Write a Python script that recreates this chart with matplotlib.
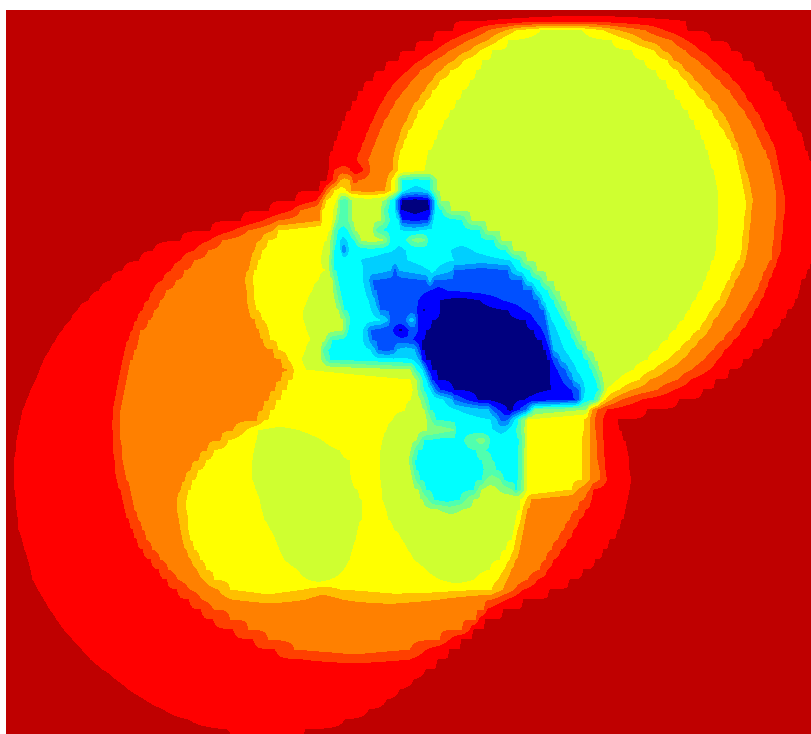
import numpy as np
import matplotlib
matplotlib.use("Agg")
import matplotlib.pyplot as plt

# band read off the picture along each row, hex code
# 0 navy, 1 blue, 2 mid blue, 4 light blue, 5 cyan, 6 7 thin greens, 8 yellow-green,
# 9 yellow, a thin, b orange, c thin, d red, e dark red
grid_x = np.arange(0, 831, 2)
grid_y = np.arange(10, 741, 10)

# one row per grid_y, "<band><x where the band stops>"
band_rows = [
    "e999",
    "e487 d680 e999",
    "e453 d473 c487 b505 a515 9540 8583 9605 a620 b646 c665 d688 e999",
    "e433 d450 c467 b487 a498 9508 8612 9630 a644 b673 c687 d711 e999",
    "e415 d435 c449 b469 a480 9492 8633 9655 a663 b686 c700 d731 e999",
    "e398 d420 c434 b454 a463 9482 8645 9668 a674 b699 c713 d743 e999",
    "e384 d408 c420 b441 a450 9476 8657 9679 a685 b710 c723 d756 e999",
    "e373 d397 c411 b432 a439 9469 8666 9687 a695 b720 c733 d766 e999",
    "e363 d389 c403 b425 a432 9462 8674 9695 a704 b730 c742 d774 e999",
    "e356 d383 c395 b418 a425 9456 8681 9704 a712 b737 c748 d781 e999",
    "e350 d377 c390 b411 a418 9449 8689 9712 a720 b745 c755 d788 e999",
    "e345 d373 c384 b407 a413 9443 8694 9718 a727 b751 c762 d793 e999",
    "e340 d368 c379 b401 a408 9438 8700 9725 a731 b756 c766 d798 e999",
    "e336 d364 c375 b398 a403 9433 8705 9731 a735 b761 c771 d803 e999",
    "e333 d360 c371 b395 a400 9428 8708 9736 a739 b766 c776 d806 e999",
    "e329 d356 c367 b393 a398 9425 8711 9738 a743 b770 c778 d810 e999",
    "e328 d333 c351 d363 c370 b392 a397 9423 8715 9741 a746 b773 c780 d815 e999",
    "e326 d332 c338 a352 c358 b387 a391 9396 7399 6401 5430 6433 7437 8717 9743 a749 b775 c782 d820 e999",
    "e319 d323 c326 b330 a334 9347 a351 b385 a391 9395 8398 7400 6402 5405 4428 5431 6434 7438 8718 9745 a751 b776 c784 d999",
    "e295 d316 c320 b323 a326 9337 7340 6349 7352 8384 7387 6390 5394 4397 2400 1402 0428 1430 2433 4435 5437 6439 7441 8718 9746 a753 b777 c786 d999",
    "e269 d291 c300 b320 a322 9333 8337 7339 6348 7352 8380 7383 6387 5395 4397 2399 1400 0430 1432 2433 4435 5442 6446 7451 8718 9746 a752 b777 c785 d999",
    "e241 d263 c278 b320 a322 9332 8335 7338 6349 7352 8381 7385 6389 5398 4400 2402 1428 2431 4434 5463 6467 7472 8718 9745 a751 b776 c784 d999",
    "e210 d233 c248 b273 a278 9330 8332 7334 6337 5349 6352 7355 8372 7375 6380 5400 4427 5480 6484 7488 8718 9744 a750 b775 c783 d999",
    "e180 d209 c222 b260 a267 9327 8330 7333 6336 5340 4347 5355 6358 7361 8383 7387 6390 5407 6412 7425 6428 5495 6498 7502 8717 9743 a749 b774 c782 d999",
    "e153 d194 c208 b254 a261 9322 8330 7332 6334 5340 4342 2346 4349 5393 4406 5450 4473 5507 6510 7514 8717 9742 a748 b773 c781 d999",
    "e139 d180 c193 b251 a258 9320 8328 7331 6333 5360 4408 5453 4510 5520 6523 7527 8715 9740 a746 b772 c777 d812 e999",
    "e122 d171 c184 b248 a254 9325 8329 7331 6334 5363 4392 2398 4430 5435 4453 2510 4517 5530 6533 7537 8710 9735 a741 b767 c774 d808 e999",
    "e110 d162 c175 b245 a252 9318 8332 7334 6337 5363 4370 2428 4432 2523 4527 5540 6543 7547 8707 9730 a736 b762 c769 d802 e999",
    "e99 d153 c165 b246 a253 9312 8333 7336 6339 5365 4372 2430 1447 2533 4537 5548 6552 7556 8703 9725 a731 b759 c766 d800 e999",
    "e88 d148 c159 b247 a254 9307 8335 7338 6341 5368 4376 2418 1440 0480 1503 2540 4543 5554 6558 7562 8697 9720 a727 b753 c761 d795 e999",
    "e77 d142 c153 b249 a256 9303 8338 7341 6344 5371 4379 2417 1422 0425 1440 0509 1525 2545 4548 5559 6563 7567 8691 9713 a721 b747 c755 d788 e999",
    "e70 d137 c147 b255 a261 9303 8343 7346 6349 5380 4389 2408 4415 2418 1432 0527 1535 2547 4552 5565 6568 7572 8685 9707 a714 b740 c749 d781 e999",
    "e62 d132 c140 b259 a267 9306 8342 7345 6348 5363 4368 2392 1398 0403 1409 2418 1425 0535 1543 2549 4557 5570 6573 7577 8677 9700 a709 b733 c742 d773 e999",
    "e55 d128 c137 b263 a270 9310 8325 7328 6331 5363 4370 2412 1422 0543 1547 2551 4561 5575 6578 7582 8668 9690 a700 b724 c734 d763 e999",
    "e49 d125 c134 b273 a278 9305 8320 7322 6326 5370 4376 2396 4416 2420 1422 0547 1550 2553 4565 5582 6585 7588 8659 9680 a691 b714 c725 d753 e999",
    "e43 d122 c130 b281 a288 9301 8321 7325 6330 5412 4420 2422 1425 0550 1553 2560 4572 5588 6591 7595 8648 9669 a682 b705 c718 d743 e999",
    "e39 d120 c127 b287 a293 9305 8410 7413 6416 5422 4425 2428 1432 0551 1558 2568 4577 5593 6597 7600 8634 9654 a668 b693 c710 d730 e999",
    "e35 d118 c125 b281 a288 9410 8416 7419 6422 5426 4429 2432 1438 0551 1563 2573 4583 5597 6600 7603 8618 9640 a650 b679 c691 d716 e999",
    "e30 d116 c123 b275 a282 9413 8417 7420 6423 5430 4434 2440 1453 0552 1573 2581 4585 5600 6602 7605 8607 9620 a633 b658 c675 d703 e999",
    "e26 d115 c121 b268 a276 9410 8420 7424 6428 5443 4453 2465 1477 0525 1577 2580 4583 5595 6598 7601 9606 a612 b622 c642 d679 e999",
    "e22 d113 c120 b262 a270 9405 8424 7427 6430 5456 4490 2498 1507 0513 1520 2528 4531 5534 7588 9590 a593 b598 c607 d647 e999",
    "e20 d112 c119 b257 a263 9392 8427 7431 6435 5490 4498 2510 4515 5519 6522 7526 8528 9585 a590 b595 c603 d618 e999",
    "e18 d112 c119 b233 a245 9258 8300 9386 8427 7455 5493 4508 5517 6521 7526 9585 a590 b596 c603 d620 e999",
    "e16 d113 c120 b220 a228 9255 8323 9382 8416 7420 6424 5465 6477 7485 6490 5520 6523 7527 9583 a590 b597 c604 d624 e999",
    "e15 d113 c121 b207 a213 9253 8340 9380 8411 7414 6417 5477 6484 5518 6522 7526 9583 a590 b597 c604 d627 e999",
    "e13 d114 c122 b198 a205 9252 8350 9380 8408 7411 6414 5483 6492 5518 6522 7526 9583 a590 b598 c605 d629 e999",
    "e13 d115 c124 b190 a197 9252 8350 9380 8410 7413 6416 5485 6496 5518 6522 7526 9583 a590 b600 c606 d630 e999",
    "e13 d117 c126 b185 a192 9252 8352 9380 8412 7415 6419 5483 6486 7500 6503 5518 6522 7526 9583 a590 b600 c607 d631 e999",
    "e14 d120 c129 b180 a188 9255 8359 9381 8418 7421 6425 5475 6478 7482 8498 7512 6515 5517 6521 7526 9572 a578 b590 c594 d630 e999",
    "e15 d122 c131 b177 a185 9259 8362 9382 8422 7428 6433 5460 6466 7474 8521 9527 a531 b585 c592 d628 e999",
    "e16 d125 c134 b177 a185 9261 8363 9385 8438 7463 8520 9523 a527 b578 c586 d625 e999",
    "e17 d129 c137 b179 a187 9264 8362 9388 8517 9521 a525 b571 c579 d622 e999",
    "e18 d133 c142 b180 a187 9270 8358 9393 8515 9518 a524 b565 c574 d618 e999",
    "e21 d137 c146 b182 a189 9275 8356 9401 8512 9516 a522 b559 c568 d610 e999",
    "e24 d143 c152 b186 a193 9279 8353 9407 8507 9514 a520 b552 c561 d603 e999",
    "e27 d151 c160 b191 a199 9284 8350 9413 8500 9510 a516 b546 c554 d595 e999",
    "e30 d159 c168 b197 a205 9297 8344 9426 8490 9505 a511 b540 c548 d583 e999",
    "e32 d167 c177 b203 a214 9308 8330 9440 8475 9499 a507 b528 c538 d570 e999",
    "e37 d177 c189 b218 a230 9305 a340 9492 a503 b515 c524 d550 e999",
    "e43 d189 c201 b232 a306 b342 a440 b493 c507 d523 e999",
    "e49 d201 c213 b485 c487 d503 e999",
    "e56 d213 c229 b476 c479 d485 e999",
    "e63 d233 c248 b463 c470 d474 e999",
    "e72 d253 c267 b440 c450 d461 e999",
    "e81 d275 c294 b411 c427 d449 e999",
    "e90 d303 c410 d438 e999",
    "e102 d426 e999",
    "e115 d414 e999",
    "e128 d400 e999",
    "e144 d387 e999",
    "e163 d369 e999",
    "e188 d345 e999",
    "e227 d305 e999",
    "e260 d290 e999",
]

band_colors = ["#00007F", "#0000FF", "#0050FF", "#0090FF", "#00CFFF",
               "#00FFFF", "#50FFAF", "#80FF80", "#CFFF30", "#FFFF00",
               "#FFBF00", "#FF8000", "#FF4000", "#FF0000", "#BF0000"]


def decode_row(r):
    runs = [(int(t[0], 16), int(t[1:])) for t in r.split()]
    xs = [-10.0]
    vs = [runs[0][0]]
    for k, (b, end) in enumerate(runs):
        if 0 < k < len(runs) - 1:
            p = runs[k - 1]
            n = runs[k + 1][0]
            if (p[0] - b) * (n - b) > 0:
                xs.append((p[1] + end) / 2)
                vs.append(b)
        if k < len(runs) - 1:
            n = runs[k + 1][0]
            s = np.sign(n - b)
            if abs(n - b) == 1:
                xs.append(end)
                vs.append(b + 0.5 * s)
            else:
                xs += [end - 1, end + 1]
                vs += [b + 0.5 * s, n - 0.5 * s]
    xs.append(1000.0)
    vs.append(runs[-1][0])
    order = np.argsort(xs)
    return np.interp(grid_x, np.array(xs)[order], np.array(vs)[order])


Z = np.array([decode_row(r) for r in band_rows])

levels = np.arange(-0.5, 15, 1)

fig = plt.figure(figsize=(8.12, 7.34), dpi=100)
ax = fig.add_axes([6 / 812, 0, 806 / 812, 724 / 734])
ax.contourf(grid_x, grid_y, Z, levels=levels, colors=band_colors)
ax.set_xlim(6, 812)
ax.set_ylim(734, 10)
ax.axis("off")
plt.savefig("out.png", dpi=100)
